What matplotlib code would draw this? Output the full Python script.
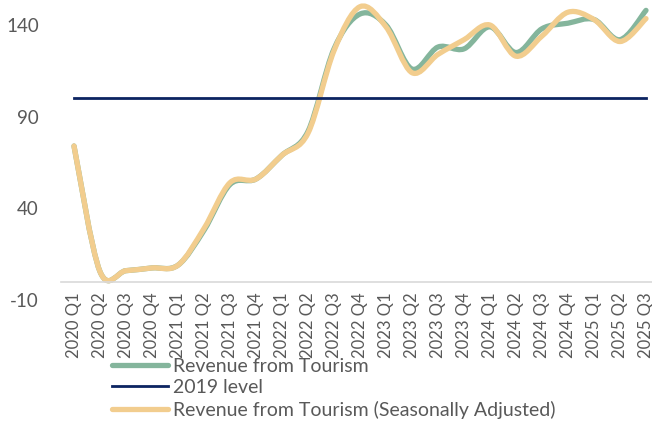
import numpy as np
import matplotlib
matplotlib.use("Agg")
import matplotlib.pyplot as plt
from matplotlib.path import Path
from matplotlib.patches import PathPatch
from matplotlib.lines import Line2D

plt.rcParams['font.family'] = ['Lato', 'DejaVu Sans']
plt.rcParams['axes.unicode_minus'] = False

# quarters shown on the category axis
quarters = ['2020 Q1', '2020 Q2', '2020 Q3', '2020 Q4',
            '2021 Q1', '2021 Q2', '2021 Q3', '2021 Q4',
            '2022 Q1', '2022 Q2', '2022 Q3', '2022 Q4',
            '2023 Q1', '2023 Q2', '2023 Q3', '2023 Q4',
            '2024 Q1', '2024 Q2', '2024 Q3', '2024 Q4',
            '2025 Q1', '2025 Q2', '2025 Q3']

# index values (2019 = 100)
revenue = [74, 5.5, 6, 7.5, 9, 28, 53, 56, 69, 82, 127, 146,
           140, 116, 128, 127, 139, 125, 138, 141, 143, 132, 148]
revenue_sa = [74, 5.5, 6, 7.5, 9, 29, 54, 56, 69, 81, 126, 150,
              139, 114, 124, 132, 140, 123, 134, 147, 143, 131, 143.5]
level_2019 = [100] * len(quarters)

yticks = [-10, 40, 90, 140]

GREEN = '#84b59c'
NAVY = '#0c2461'
SAND = '#f2cd8e'
GREY = '#595959'


def smooth_path(ys):
    # excel-like smoothed line: catmull-rom segments as cubic beziers
    pts = np.column_stack([np.arange(len(ys)), ys]).astype(float)
    ext = np.vstack([pts[0], pts, pts[-1]])
    verts = [pts[0]]
    codes = [Path.MOVETO]
    for i in range(len(pts) - 1):
        p0, p1, p2, p3 = ext[i], ext[i + 1], ext[i + 2], ext[i + 3]
        verts += [p1 + (p2 - p0) / 6, p2 - (p3 - p1) / 6, p2]
        codes += [Path.CURVE4] * 3
    return Path(verts, codes)


fig = plt.figure(figsize=(6.52, 4.23), dpi=100)
ax = fig.add_axes([61 / 652, 123 / 423, 598 / 652, 293.3 / 423])

ax.add_patch(PathPatch(smooth_path(revenue), fill=False, edgecolor=GREEN,
                       lw=3.8, capstyle='round', joinstyle='round', clip_on=False))
ax.plot(range(len(quarters)), level_2019, color=NAVY, lw=2.0, clip_on=False)
ax.add_patch(PathPatch(smooth_path(revenue_sa), fill=False, edgecolor=SAND,
                       lw=3.8, capstyle='round', joinstyle='round', clip_on=False))

ax.set_xlim(-0.5, len(quarters) - 0.5)
ax.set_ylim(-10, 150)

ax.set_xticks(range(len(quarters)))
ax.set_xticklabels(quarters)
ax.set_yticks(yticks)
ax.tick_params(axis='x', length=0, pad=8, labelsize=12, labelcolor=GREY,
               labelrotation=90)
ax.tick_params(axis='y', length=0, pad=16, labelsize=13.5, labelcolor=GREY)

for s in ['top', 'right', 'left']:
    ax.spines[s].set_visible(False)
ax.spines['bottom'].set_position(('data', 0))
ax.spines['bottom'].set_color('#d9d9d9')
ax.spines['bottom'].set_linewidth(1.2)

handles = [Line2D([], [], color=GREEN, lw=3.8, solid_capstyle='round'),
           Line2D([], [], color=NAVY, lw=2.0),
           Line2D([], [], color=SAND, lw=3.8, solid_capstyle='round')]
labels = ['Revenue from Tourism', '2019 level',
          'Revenue from Tourism (Seasonally Adjusted)']
leg = fig.legend(handles, labels, loc='upper left',
                 bbox_to_anchor=(112 / 652, 1 - 358 / 423),
                 frameon=False, fontsize=14, borderpad=0, borderaxespad=0,
                 handlelength=2.9, handletextpad=0.22, labelspacing=0.22)
for t in leg.get_texts():
    t.set_color(GREY)

fig.savefig('out.png', dpi=100)
